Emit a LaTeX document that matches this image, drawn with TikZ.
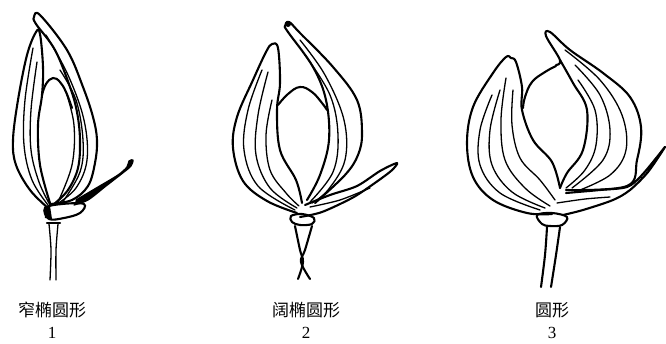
\documentclass[tikz,border=0pt]{standalone}
\usepackage{fontspec}
\setmainfont{Liberation Serif}
\newfontfamily\cjk{Noto Sans CJK SC}
\begin{document}
\begin{tikzpicture}[x=1pt,y=-1pt,
  outl/.style={line width=2.1pt,line cap=round,line join=round},
  vein/.style={line width=1.3pt,line cap=round,line join=round},
  lab/.style={font=\cjk\fontsize{17}{17}\selectfont,inner sep=0pt},
  num/.style={font=\fontsize{17}{17}\selectfont,inner sep=0pt}]
\useasboundingbox (0,0) rectangle (666,343);
% ================= Drawing 1 =================
% right tall bract
\draw[outl] plot[smooth,tension=0.6] coordinates {(50,204) (72,200) (88,186) (95,163) (97,140) (93,117) (83,87) (67,50) (40,15) (34,17) (36,24) (55,50) (70,87) (77,112) (80,140) (78,168) (68,190) (54,204)};
% left bract
\draw[outl] plot[smooth,tension=0.6] coordinates {(48,208) (30,190) (16,165) (13,140) (18,100) (27,55) (36,32) (40,34) (43,67) (42,95) (38,125) (40,165) (50,203)};
% boll
\draw[outl] plot[smooth,tension=0.7] coordinates {(42,95) (46,84) (53,78) (60,82) (66,92) (72,108)};
% veins left
\draw[vein] plot[smooth,tension=0.6] coordinates {(33,48) (25,100) (24,145) (32,180) (48,205)};
\draw[vein] plot[smooth,tension=0.6] coordinates {(37,62) (31,110) (31,150) (39,182) (50,205)};
% veins right
\draw[vein] plot[smooth,tension=0.6] coordinates {(46,35) (68,75) (84,120) (87,160) (76,188) (57,204)};
\draw[vein] plot[smooth,tension=0.6] coordinates {(60,70) (76,100) (83,140) (80,172) (62,203)};
\draw[vein] plot[smooth,tension=0.6] coordinates {(66,92) (74,125) (72,165) (58,202)};
% bracteole
\draw[vein,fill=black] plot[smooth,tension=0.5] coordinates {(76,200) (98,187) (118,175) (127,167) (129,161) (133,160) (131,166) (124,172) (106,186) (88,200) (74,205)};
% calyx
\draw[outl] plot[smooth cycle,tension=0.6] coordinates {(45,208) (62,204) (84,204) (80,213) (64,218) (49,219)};
\fill (44,207) -- (50,206) -- (52,219) -- (45,218) -- cycle;
% stem
\draw[outl] (47,223) -- (60,223);
\draw[vein] plot[smooth] coordinates {(49,224) (51,250) (50,280)};
\draw[vein] plot[smooth] coordinates {(58,224) (56,250) (56,280)};
% ================= Drawing 2 =================
% right tall bract
\draw[outl] plot[smooth,tension=0.6] coordinates {(315,203) (345,175) (358,155) (362,133) (357,100) (333,67) (300,33) (289,22) (285,26) (288,32) (313,67) (326,100) (329,140) (320,175) (307,200)};
\fill (288,24) circle (3);
% left bract
\draw[outl] plot[smooth,tension=0.6] coordinates {(297,213) (267,201) (243,181) (233,148) (237,117) (253,80) (266,52) (272,44) (278,48) (280,83) (277,110) (280,150) (296,180) (302,203)};
% boll
\draw[outl] plot[smooth,tension=0.7] coordinates {(278,105) (288,94) (300,87) (312,92) (322,103) (327,110)};
% veins left
\draw[vein] plot[smooth,tension=0.6] coordinates {(262,70) (248,110) (244,150) (258,186) (295,210)};
\draw[vein] plot[smooth,tension=0.6] coordinates {(268,72) (258,115) (256,155) (270,188) (297,208)};
\draw[vein] plot[smooth,tension=0.6] coordinates {(272,100) (266,135) (270,170) (286,193) (299,206)};
% veins right
\draw[vein] plot[smooth,tension=0.6] coordinates {(300,40) (325,75) (344,120) (345,160) (328,190) (312,203)};
\draw[vein] plot[smooth,tension=0.6] coordinates {(305,55) (330,95) (338,135) (333,172) (310,202)};
% bracteole
\draw[outl] plot[smooth,tension=0.5] coordinates {(305,205) (330,195) (357,186) (380,171) (397,163) (391,171) (372,185) (352,198) (322,212) (300,217)};
\draw[vein] plot[smooth,tension=0.5] coordinates {(310,207) (340,200) (370,188)};
% calyx
\draw[outl] plot[smooth cycle,tension=0.6] coordinates {(291,216) (302,214) (314,218) (312,224) (300,225) (292,222)};
% stem
\draw[outl] plot[smooth,tension=0.6] coordinates {(295,226) (300,250) (303,262) (298,279)};
\draw[outl] plot[smooth,tension=0.6] coordinates {(312,226) (305,250) (301,262) (310,279)};
% ================= Drawing 3 =================
% right bract
\draw[outl] plot[smooth,tension=0.6] coordinates {(566,190) (627,186) (637,160) (641,127) (630,97) (603,73) (570,50) (550,32) (546,36) (560,60) (556,65)};
\draw[outl] plot[smooth,tension=0.6] coordinates {(560,60) (573,83) (587,110) (583,150) (567,173) (560,188)};
% boll
\draw[outl] plot[smooth,tension=0.7] coordinates {(556,66) (545,72) (532,82) (525,97) (523,108)};
% left bract
\draw[outl] plot[smooth,tension=0.6] coordinates {(552,214) (527,213) (493,200) (473,177) (467,143) (473,107) (493,73) (506,57) (511,58) (516,62) (522,87) (522,110) (533,140) (552,162) (560,188)};
% veins left
\draw[vein] plot[smooth,tension=0.6] coordinates {(492,95) (480,130) (480,165) (500,193) (540,210)};
\draw[vein] plot[smooth,tension=0.6] coordinates {(500,90) (490,130) (492,165) (512,192) (545,208)};
\draw[vein] plot[smooth,tension=0.6] coordinates {(506,78) (501,120) (505,160) (525,188) (550,206)};
\draw[vein] plot[smooth,tension=0.6] coordinates {(513,90) (512,125) (520,158) (540,180) (555,200)};
% veins right
\draw[vein] plot[smooth,tension=0.6] coordinates {(565,50) (600,80) (622,115) (626,150) (610,175) (575,192)};
\draw[vein] plot[smooth,tension=0.6] coordinates {(575,65) (600,95) (610,130) (603,160) (572,188)};
\draw[vein] plot[smooth,tension=0.6] coordinates {(578,80) (595,110) (596,145) (585,170) (566,188)};
% bracteole
\draw[outl] plot[smooth,tension=0.5] coordinates {(566,193) (600,190) (627,187) (641,176) (657,157) (665,147) (648,172) (630,190) (613,200) (583,210) (563,215)};
\draw[vein] plot[smooth,tension=0.5] coordinates {(557,203) (585,199) (610,197)};
% calyx
\draw[outl] plot[smooth cycle,tension=0.6] coordinates {(537,215) (552,213) (567,217) (562,225) (550,226) (542,224)};
% stem
\draw[outl] plot[smooth,tension=0.6] coordinates {(547,227) (545,255) (541,287)};
\draw[outl] plot[smooth,tension=0.6] coordinates {(560,227) (556,255) (551,287)};
% ================= Labels =================
\node[lab] (l1) at (52,310) {窄椭圆形};
\node[num] (n1) at (52,333) {1};
\node[lab] (l2) at (306,310) {阔椭圆形};
\node[num] (n2) at (306,333) {2};
\node[lab] (l3) at (552,310) {圆形};
\node[num] (n3) at (552,333) {3};
\end{tikzpicture}
\end{document}
